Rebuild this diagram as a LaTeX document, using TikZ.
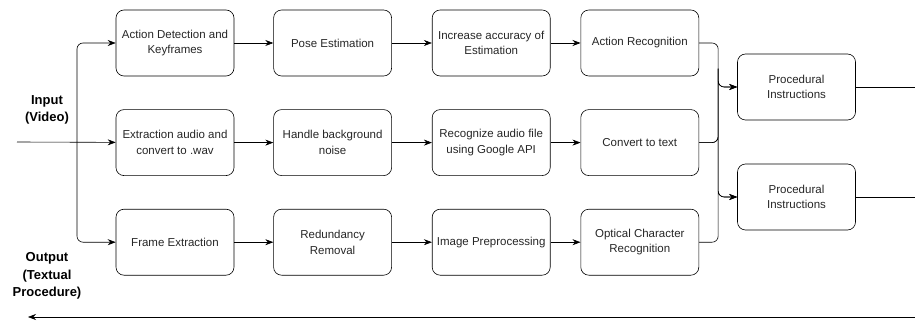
\documentclass[tikz,border=0pt]{standalone}
\usepackage{fontspec}
\setmainfont{Liberation Sans}
\usetikzlibrary{positioning, arrows.meta, calc}

\begin{document}
\begin{tikzpicture}[x=1pt, y=1pt, node distance={33pt and 39pt}, semithick,
        box/.style = {draw, rounded corners=8pt, minimum width=118pt, minimum height=66pt,
            align=center, inner sep=1pt,
            font=\fontsize{11.5}{15.5}\selectfont, text=black!85},
        lbl/.style = {align=center, font=\fontsize{13}{17.5}\selectfont\bfseries},
        arr/.style = {-{Stealth[length=8pt, width=6pt]}}]
    \useasboundingbox (0,0) rectangle (915,-323);
    % video branch
    \node[box] (a1) at (175,-43) {Action Detection and\\Keyframes};
    \node[box] (a2) [right=of a1] {Pose Estimation};
    \node[box] (a3) [right=40pt of a2] {Increase accuracy of\\Estimation};
    \node[box] (a4) [right=30pt of a3] {Action Recognition};
    % audio branch
    \node[box] (b1) [below=of a1] {Extraction audio and\\convert to .wav};
    \node[box] (b2) [right=of b1] {Handle background\\noise};
    \node[box] (b3) [right=40pt of b2] {Recognize audio file\\using Google API};
    \node[box] (b4) [right=30pt of b3] {Convert to text};
    % frame branch
    \node[box] (c1) [below=of b1] {Frame Extraction};
    \node[box] (c2) [right=of c1] {Redundancy\\Removal};
    \node[box] (c3) [right=40pt of c2] {Image Preprocessing};
    \node[box] (c4) [right=30pt of c3] {Optical Character\\Recognition};
    % outputs
    \node[box] (p1) at (796.5,-87) {Procedural\\Instructions};
    \node[box] (p2) at (796.5,-197) {Procedural\\Instructions};
    \node[lbl] (inlbl) at (47,-110) {Input\\(Video)};
    \node[lbl] (outlbl) at (47,-276) {Output\\(Textual\\Procedure)};
    \coordinate (in) at (17,-142);
    \coordinate (split) at (77,-142);
    \coordinate (outR) at (915,-317);
    \coordinate (outL) at (28,-317);
    \coordinate (merge) at ($(a4.east)!0.5!(p1.west)$);

    \draw[arr] (in) -- (b1);
    \draw[arr, rounded corners=6pt] (split) |- (a1);
    \draw[arr, rounded corners=6pt] (split) |- (c1);
    \draw[arr] (a1) -- (a2);
    \draw[arr] (a2) -- (a3);
    \draw[arr] (a3) -- (a4);
    \draw[arr] (b1) -- (b2);
    \draw[arr] (b2) -- (b3);
    \draw[arr] (b3) -- (b4);
    \draw[arr] (c1) -- (c2);
    \draw[arr] (c2) -- (c3);
    \draw[arr] (c3) -- (c4);
    \draw[arr, rounded corners=6pt] (a4.east) -| (merge) |- (p1.west);
    \draw[arr, rounded corners=6pt] (b4.east) -| (merge) |- (p1.west);
    \draw[arr, rounded corners=6pt] (b4.east) -| (merge) |- (p2.west);
    \draw[arr, rounded corners=6pt] (c4.east) -| (merge) |- (p2.west);
    \draw (p1.east) -- (p1.east -| outR);
    \draw (p2.east) -- (p2.east -| outR);
    \draw[arr] (outR) -- (outL);
\end{tikzpicture}
\end{document}
